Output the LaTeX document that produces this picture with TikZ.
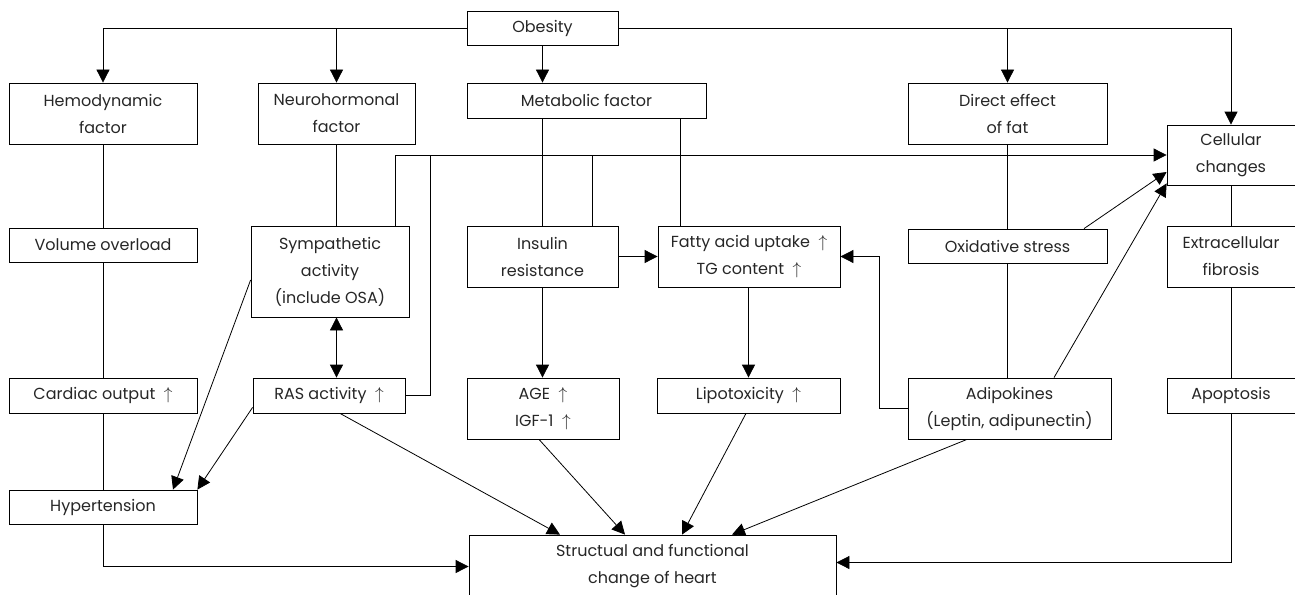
\documentclass[tikz,border=0pt]{standalone}
\usepackage{fontspec}
\setmainfont{Poppins}
\usetikzlibrary{arrows.meta}

\begin{document}
\begin{tikzpicture}[x=1pt,y=-1pt,line width=0.8pt,>={Triangle[length=13pt,width=13pt]}]
			\tikzstyle{box}=[draw=black,rectangle,inner sep=0pt,align=center,text=black!85,font=\fontsize{16}{27}\selectfont]
			\useasboundingbox (0,0) rectangle (1295,594);
				% first row
				\node[box,minimum width=151pt,minimum height=34pt](obes) at (542.5,28){Obesity};
				\node[box,minimum width=188pt,minimum height=61pt](hemo) at (103,113.5){Hemodynamic\\factor};
				\node[box,minimum width=157pt,minimum height=61pt](neuro) at (336.5,113.5){Neurohormonal\\factor};
				\node[box,minimum width=239pt,minimum height=35pt](meta) at (586.5,100.5){Metabolic factor};
				\node[box,minimum width=199pt,minimum height=61pt](direct) at (1007.5,113.5){Direct effect\\of fat};
				\node[box,minimum width=128pt,minimum height=60pt](cell) at (1231,155){Cellular\\changes};
				% second row
				\node[box,minimum width=188pt,minimum height=34pt](vol) at (103,245){Volume overload};
				\node[box,minimum width=158pt,minimum height=91pt](symp) at (330,271.5){Sympathetic\\activity\\(include OSA)};
				\node[box,minimum width=151pt,minimum height=61pt](ins) at (542.5,256.5){Insulin\\resistance};
				\node[box,minimum width=182pt,minimum height=61pt](fatty) at (749,256.5){Fatty acid uptake\ \ $\uparrow$\\TG content\ \ $\uparrow$};
				\node[box,minimum width=199pt,minimum height=34pt](oxid) at (1007.5,246){Oxidative stress};
				\node[box,minimum width=128pt,minimum height=61pt](extra) at (1231,256.5){Extracellular\\fibrosis};
				% third row
				\node[box,minimum width=188pt,minimum height=35pt](card) at (103,395.5){Cardiac output\ \ $\uparrow$};
				\node[box,minimum width=152pt,minimum height=35pt](ras) at (329,395.5){RAS activity\ \ $\uparrow$};
				\node[box,minimum width=152pt,minimum height=61pt](age) at (543,408.5){AGE\ \ $\uparrow$\\IGF-1\ \ $\uparrow$};
				\node[box,minimum width=183pt,minimum height=35pt](lipo) at (748.5,395.5){Lipotoxicity\ \ $\uparrow$};
				\node[box,minimum width=203pt,minimum height=61pt](adipo) at (1009.5,408.5){Adipokines\\(Leptin, adipunectin)};
				\node[box,minimum width=128pt,minimum height=35pt](apop) at (1231,395.5){Apoptosis};
				% bottom
				\node[box,minimum width=188pt,minimum height=34pt](hyper) at (103,507){Hypertension};
				\node[box,minimum width=367pt,minimum height=63pt](heart) at (652.5,566.5){Structual and functional\\change of heart};
				\coordinate (sj) at (395,156);
				\coordinate (rj) at (430,156);
				\coordinate (ij) at (592,156);
				% obesity branches
				\draw[->] (obes.west) -| (hemo.north);
				\draw[->] (obes.west) -| (neuro.north);
				\draw[->] (obes.east) -| (direct.north);
				\draw[->] (obes.east) -| (cell.north);
				\draw[->] (obes.south) -- (obes.south |- meta.north);
				% plain links
				\draw (hemo.south) -- (vol.north) (vol.south) -- (card.north) (card.south) -- (hyper.north);
				\draw (neuro.south) -- (neuro.south |- symp.north);
				\draw (meta.south -| ins.north) -- (ins.north);
				\draw ([xshift=23pt]fatty.north west |- meta.south) -- ([xshift=23pt]fatty.north west);
				\draw (direct.south) -- (oxid.north) (oxid.south) -- (oxid.south |- adipo.north);
				\draw (cell.south) -- (extra.north) (extra.south) -- (apop.north);
				% to cellular changes
				\draw[->] (symp.north -| sj) -- (sj |- cell.west) -- (cell.west);
				\draw (ras.east) -| (rj |- cell.west);
				\draw (ij |- cell.west) -- (ij |- ins.north);
				\draw[->] ([xshift=76.5pt]oxid.north) -- ([yshift=-17pt]cell.west);
				\draw[->] ([xshift=44.5pt]adipo.north) -- ([yshift=2pt]cell.south west);
				% metabolic side
				\draw[<->] (neuro.south |- symp.south) -- (neuro.south |- ras.north);
				\draw[->] (ins.east) -- (fatty.west);
				\draw[->] (ins.south) -- (ins.south |- age.north);
				\draw[->] (fatty.south -| lipo.north) -- (lipo.north);
				\draw[->] (adipo.west) -- ++(-28,0) |- (fatty.east);
				% hypertension
				\draw[->] ([yshift=-8.5pt]symp.west) -- ([xshift=70pt]hyper.north);
				\draw[->] ([yshift=6pt]ras.south west) -- (hyper.north east);
				% to the heart
				\draw[->] (hyper.south) |- (heart.west);
				\draw[->] (apop.south) |- ([yshift=4pt]heart.east);
				\path[->]
					([xshift=11pt]ras.south) edge ([xshift=-92.5pt]heart.north)
					([xshift=-4pt]age.south) edge ([xshift=-27.5pt]heart.north)
					([xshift=-2.5pt]lipo.south) edge ([xshift=29.5pt]heart.north)
					([xshift=-42.5pt]adipo.south) edge ([xshift=79.5pt]heart.north);
\end{tikzpicture}
\end{document}
